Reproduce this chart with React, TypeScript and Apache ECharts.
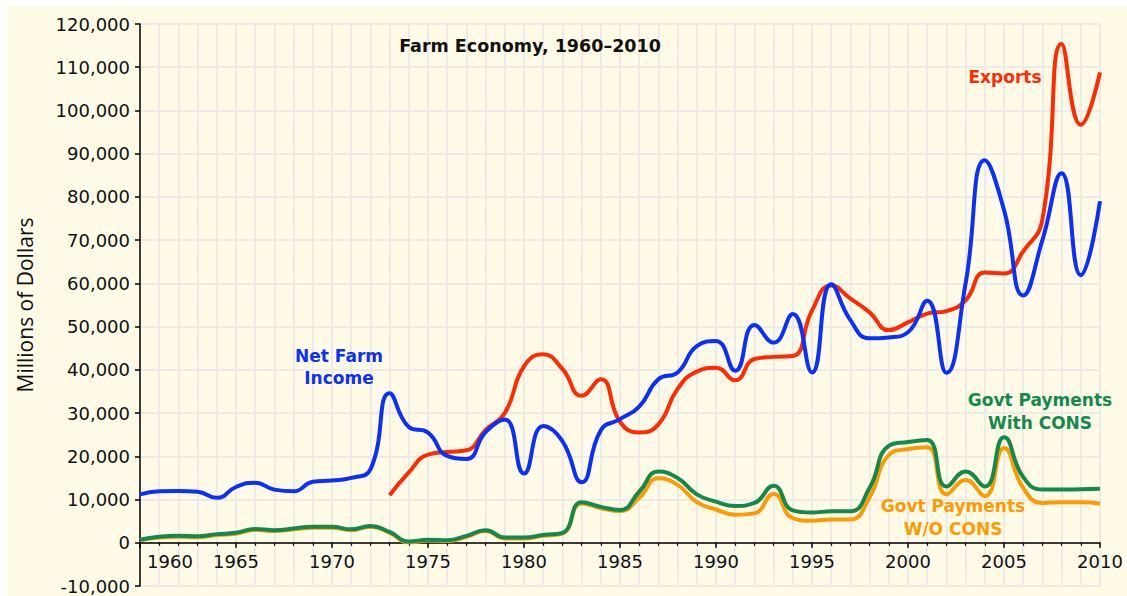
import React, { useEffect, useRef } from "react";
import * as echarts from "echarts";

const years: number[] = [];
for (let y = 1960; y <= 2010; y++) years.push(y);

const netFarmIncome = [
  11200, 11900, 12000, 11800, 10400, 12900, 13900, 12300, 11900, 14100,
  14400, 15000, 17000, 34600, 26800, 25500, 20100, 19400, 25600, 28500,
  16000, 27000, 23500, 14000, 26000, 28600, 31500, 37800, 39400, 45500,
  46700, 39800, 50400, 46300, 52900, 39400, 59800, 51500, 47300, 47500,
  48700, 56000, 39300, 60000, 88500, 77000, 57200, 70000, 85500, 61900,
  79000,
];

const exportYears: number[] = [];
for (let y = 1973; y <= 2010; y++) exportYears.push(y);
const exportsValues = [
  11000, 16300, 20400, 21000, 21400, 26100, 30000, 40800, 43600, 40200,
  34000, 37800, 28000, 25500, 27400, 35600, 39600, 40500, 37600, 42500,
  43000, 43200, 53700, 59500, 56500, 53300, 49200, 51000, 53000, 53600,
  56100, 62500, 62300, 67400, 74800, 115400, 96700, 108800,
];

const govtWithCons = [
  700, 1400, 1600, 1500, 2000, 2300, 3200, 2900, 3300, 3700,
  3700, 3100, 3900, 2500, 300, 700, 600, 1600, 2900, 1200,
  1200, 1800, 2300, 9400, 8300, 7600, 11800, 16500, 15000, 11200,
  9500, 8500, 9200, 13200, 7500, 7000, 7300, 7300, 12700, 22400,
  23300, 23800, 13000, 16500, 13000, 24400, 15200, 12300, 12300, 12400,
  12500,
];

const govtWithoutCons = [
  600, 1200, 1400, 1300, 1800, 2100, 3000, 2700, 3100, 3500,
  3500, 2900, 3700, 2300, 100, 500, 400, 1400, 2700, 1000,
  1000, 1600, 2100, 9100, 8000, 7300, 10400, 14900, 13400, 9400,
  7700, 6500, 6800, 11300, 5700, 5100, 5400, 5400, 10500, 20300,
  21700, 22100, 11200, 14500, 10800, 21900, 12700, 9200, 9400, 9400,
  9100,
];

const yTickMin = -10000;
const yTickMax = 120000;

const BLUE = "#0a30ff";
const RED = "#ff2a00";
const GREEN = "#118a4c";
const ORANGE = "#ff9a00";

const GRID_TOP = 18;
const GRID_BOTTOM = 10;
const CHART_H = 590;

function fmt(v: number): string {
  const s = Math.abs(v).toString().replace(/\B(?=(\d{3})+(?!\d))/g, ",");
  return v < 0 ? "-" + s : s;
}

export default function App() {
  const ref = useRef<HTMLDivElement>(null);
  useEffect(() => {
    if (!ref.current) return;
    const chart = echarts.init(ref.current, null, { renderer: "svg" });
    const pair = (xs: number[], vs: number[]) => xs.map((x, i) => [x, vs[i]]);
    const lineSeries = (name: string, data: number[][], color: string) => ({
      name,
      type: "line",
      data,
      smooth: 0.5,
      showSymbol: false,
      symbol: "none",
      lineStyle: { color, width: 4 },
      itemStyle: { color },
      z: 3,
    });
    const labelStyle = {
      fontFamily: "DejaVu Sans",
      fontWeight: "bold",
      fontSize: 17,
      textAlign: "center",
      textVerticalAlign: "middle",
      lineHeight: 22,
    };
    const plotH = CHART_H - GRID_TOP - GRID_BOTTOM;
    const zeroOffset = (plotH * (0 - yTickMin)) / (yTickMax - yTickMin);
    chart.setOption({
      animation: false,
      backgroundColor: "#fffbe7",
      grid: {
        left: 133,
        right: 27,
        top: GRID_TOP,
        bottom: GRID_BOTTOM,
        containLabel: false,
        outerBoundsMode: "none",
      },
      xAxis: {
        type: "value",
        min: 1960,
        max: 2010,
        interval: 5,
        position: "bottom",
        offset: -zeroOffset,
        axisLine: { onZero: false, lineStyle: { color: "#000", width: 1.5 } },
        axisTick: { show: true, length: 5, lineStyle: { color: "#000", width: 1.5 } },
        minorTick: { show: true, splitNumber: 5, length: 3, lineStyle: { color: "#000", width: 1.2 } },
        splitLine: { show: true, lineStyle: { color: "#eeeae6", width: 2 } },
        minorSplitLine: { show: true, lineStyle: { color: "#eeeae6", width: 2 } },
        axisLabel: {
          margin: 10,
          fontFamily: "DejaVu Sans",
          fontSize: 18,
          color: "#111",
          formatter: (v: number) => (v === 1960 ? "{p|1960}" : String(v)),
          rich: {
            p: { padding: [0, 0, 0, 60], fontFamily: "DejaVu Sans", fontSize: 18, color: "#111" },
          },
        },
      },
      yAxis: {
        type: "value",
        min: yTickMin,
        max: yTickMax,
        interval: 10000,
        name: "Millions of Dollars",
        nameLocation: "middle",
        nameGap: 105,
        nameTextStyle: { fontFamily: "Open Sans", fontSize: 21, color: "#111" },
        axisLine: { show: true, onZero: false, lineStyle: { color: "#000", width: 1.5 } },
        axisTick: { show: true, length: 5, lineStyle: { color: "#000", width: 1.5 } },
        splitLine: { show: true, lineStyle: { color: "#eeeae6", width: 2 } },
        axisLabel: {
          margin: 10,
          fontFamily: "DejaVu Sans",
          fontSize: 18,
          color: "#111",
          formatter: (v: number) => fmt(v),
        },
      },
      series: [
        lineSeries("Govt Payments W/O CONS", pair(years, govtWithoutCons), ORANGE),
        lineSeries("Govt Payments With CONS", pair(years, govtWithCons), GREEN),
        lineSeries("Exports", pair(exportYears, exportsValues), RED),
        lineSeries("Net Farm Income", pair(years, netFarmIncome), BLUE),
      ],
      graphic: [
        {
          type: "text",
          x: 523,
          y: 40,
          z: 100,
          style: { ...labelStyle, text: "Farm Economy, 1960–2010", fill: "#111", fontSize: 17.5 },
        },
        { type: "text", x: 332, y: 361, z: 100, style: { ...labelStyle, text: "Net Farm\nIncome", fill: BLUE } },
        { type: "text", x: 998, y: 71, z: 100, style: { ...labelStyle, text: "Exports", fill: RED } },
        {
          type: "text",
          x: 1033,
          y: 405,
          z: 100,
          style: { ...labelStyle, text: "Govt Payments\nWith CONS", fill: GREEN, lineHeight: 23 },
        },
        {
          type: "text",
          x: 946,
          y: 511,
          z: 100,
          style: { ...labelStyle, text: "Govt Payments\nW/O CONS", fill: ORANGE, lineHeight: 23 },
        },
      ],
    });
    return () => chart.dispose();
  }, []);
  return (
    <div
      ref={ref}
      style={{ position: "absolute", left: 7, top: 6, width: 1120, height: CHART_H }}
    />
  );
}
